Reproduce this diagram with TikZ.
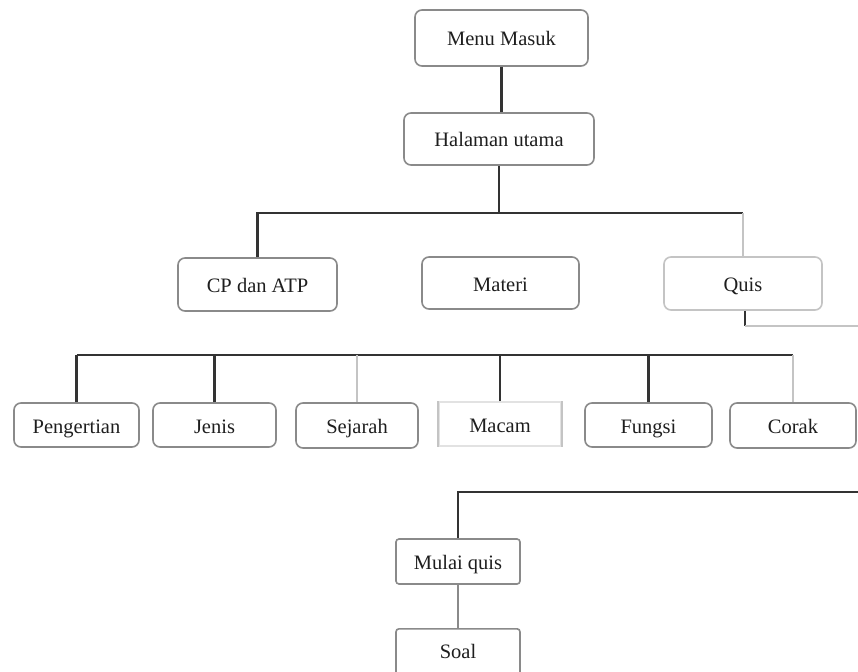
\documentclass[tikz,border=0pt]{standalone}
\usepackage{fontspec}
\setmainfont{Liberation Serif}
\definecolor{boxline}{HTML}{8A8A8A}
\definecolor{lightline}{HTML}{C4C4C4}
\definecolor{faint}{HTML}{E2E2E2}
\definecolor{conn}{HTML}{333333}
\definecolor{txt}{HTML}{1E1E1E}
\begin{document}
\begin{tikzpicture}[x=1pt,y=-1pt,
  box/.style={draw=boxline, line width=1.6pt, rounded corners=7pt, fill=white,
    text=txt, font=\fontsize{20.5}{24}\selectfont, inner sep=0pt,
    text height=16pt, text depth=0pt},
  lightbox/.style={box, draw=lightline},
  faintbox/.style={box, draw=faint, rounded corners=0pt},
  link/.style={draw=conn, line width=2.6pt},
  thinlink/.style={draw=conn, line width=1.8pt},
  greylink/.style={draw=lightline, line width=1.8pt},
  midlink/.style={draw=boxline, line width=1.8pt}]
\useasboundingbox (0,0) rectangle (858,671);
\clip (0,0) rectangle (858,671);
\fill[white] (0,0) rectangle (858,671);

% nodes
\node[box, minimum width=173pt, minimum height=56pt] (menu) at (501.5,38) {Menu Masuk};
\node[box, minimum width=190pt, minimum height=52pt] (hal) at (499,139) {Halaman utama};
\node[box, minimum width=159pt, minimum height=53pt] (cp) at (257.5,284.5) {CP dan ATP};
\node[box, minimum width=157pt, minimum height=52pt] (mat) at (500.5,283) {Materi};
\node[lightbox, minimum width=158pt, minimum height=53pt] (quis) at (743,283.5) {Quis};

\node[box, minimum width=125pt, minimum height=44pt] (peng) at (76.5,425) {Pengertian};
\node[box, minimum width=123pt, minimum height=44pt] (jenis) at (214.5,425) {Jenis};
\node[box, minimum width=122pt, minimum height=45pt] (sej) at (357,425.5) {Sejarah};
\node[faintbox, minimum width=122pt, minimum height=44pt] (mac) at (500,424) {Macam};
\node[box, minimum width=127pt, minimum height=44pt] (fung) at (648.5,425) {Fungsi};
\node[box, minimum width=126pt, minimum height=45pt] (corak) at (793,425.5) {Corak};

\node[box, rounded corners=3pt, minimum width=124pt, minimum height=45pt] (mulai) at (458,561.5) {Mulai quis};
\node[box, rounded corners=3pt, minimum width=124pt, minimum height=62pt, anchor=north] (soal) at (458,628) {\raisebox{9pt}{Soal}};

% side edges of the faint box
\draw[lightline, line width=1.6pt] (mac.north west) -- (mac.south west);
\draw[lightline, line width=1.6pt] (mac.north east) -- (mac.south east);

% coordinates
\coordinate (bar1) at (499,213);
\coordinate (bar2) at (500,355);
\coordinate (qa) at (862,326);
\coordinate (qb) at (862,492);

% connectors
\draw[link] (menu.south) -- (menu.south |- hal.north);
\draw[link] (hal.south) -- (bar1);
\draw[link] (cp.north) |- (bar1);
\draw[link] (bar1) -- (quis.north |- bar1);
\draw[greylink] (quis.north |- bar1) -- (quis.north);

\draw[link] (peng.north |- bar2) -- (corak.north |- bar2);
\draw[link] (peng.north) -- (peng.north |- bar2);
\draw[link] (jenis.north) -- (jenis.north |- bar2);
\draw[greylink] (sej.north) -- (sej.north |- bar2);
\draw[link] (mac.north) -- (mac.north |- bar2);
\draw[link] (fung.north) -- (fung.north |- bar2);
\draw[greylink] (corak.north) -- (corak.north |- bar2);

\draw[thinlink] ([xshift=2pt]quis.south) -- ([xshift=2pt]quis.south |- qa);
\draw[greylink] ([xshift=2pt]quis.south |- qa) -- (qa);

\draw[link] (qb) -| (mulai.north);
\draw[midlink] (mulai.south) -- (soal.north);
\end{tikzpicture}
\end{document}
